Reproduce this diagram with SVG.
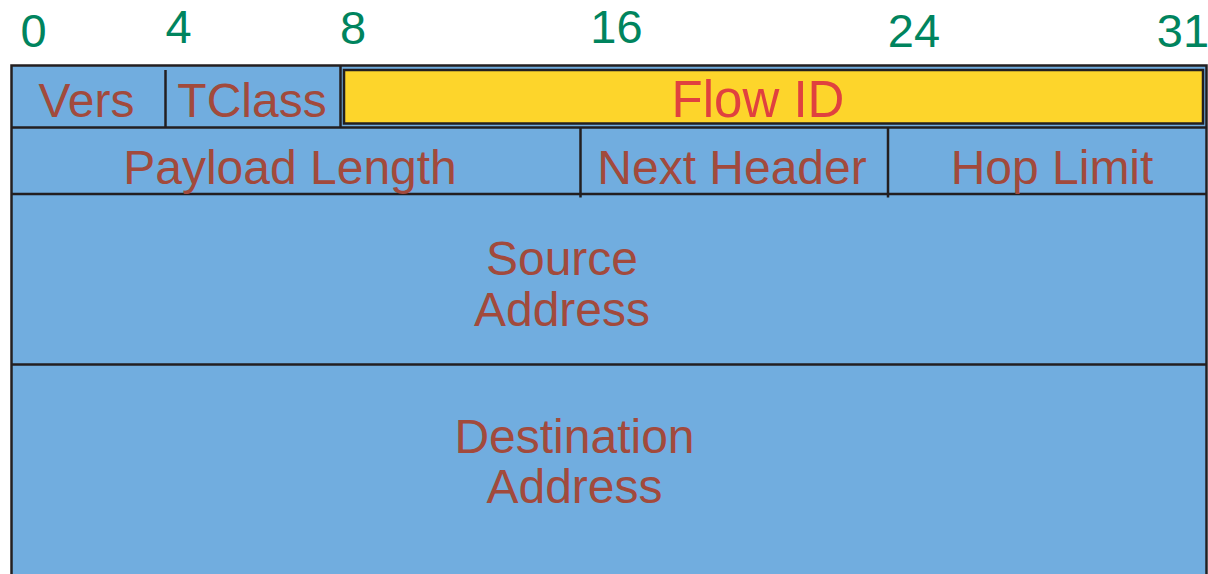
<svg xmlns="http://www.w3.org/2000/svg" width="1208" height="574" viewBox="0 0 1208 574">
  <style>
    .cell { fill: #71addf; stroke: #231f20; stroke-width: 2.5; }
    .rule { stroke: #231f20; stroke-width: 2.5; fill: none; }
    .lbl { font-family: "Liberation Sans", Arial, sans-serif; font-size: 48px; fill: #a24a3c; text-anchor: middle; }
    .flow { font-family: "Liberation Sans", Arial, sans-serif; font-size: 51px; fill: #e0413f; text-anchor: middle; }
    .bit { font-family: "Liberation Sans", Arial, sans-serif; font-size: 47px; fill: #00845e; text-anchor: middle; }
  </style>

  <!-- bit offsets -->
  <g id="bit-scale">
    <text class="bit" x="33.5" y="47">0</text>
    <text class="bit" x="178.5" y="43">4</text>
    <text class="bit" x="353" y="44">8</text>
    <text class="bit" x="616.5" y="43">16</text>
    <text class="bit" x="914" y="47">24</text>
    <text class="bit" x="1183" y="47">31</text>
  </g>

  <!-- header body -->
  <g id="header-frame">
    <rect class="cell" x="11.5" y="65.5" width="1195" height="540"/>
  </g>

  <!-- field separators -->
  <g id="separators">
    <line class="rule" x1="11.5" y1="127.5" x2="1206.5" y2="127.5"/>
    <line class="rule" x1="11.5" y1="194" x2="1206.5" y2="194"/>
    <line class="rule" x1="11.5" y1="364.5" x2="1206.5" y2="364.5"/>
    <line class="rule" x1="165.5" y1="70" x2="165.5" y2="127.5"/>
    <line class="rule" x1="340.5" y1="65.5" x2="340.5" y2="127.5"/>
    <line class="rule" x1="580.5" y1="127.5" x2="580.5" y2="197.5"/>
    <line class="rule" x1="888" y1="127.5" x2="888" y2="197.5"/>
  </g>

  <g id="field-vers">
    <text class="lbl" x="86.5" y="117">Vers</text>
  </g>

  <g id="field-tclass">
    <text class="lbl" x="252" y="117">TClass</text>
  </g>

  <g id="field-flow-id">
    <rect x="344" y="70" width="859" height="53.5" fill="#fdd52b" stroke="#231f20" stroke-width="2.5"/>
    <text class="flow" x="758" y="117">Flow ID</text>
  </g>

  <g id="field-payload-length">
    <text class="lbl" x="290" y="184">Payload Length</text>
  </g>

  <g id="field-next-header">
    <text class="lbl" x="732" y="184">Next Header</text>
  </g>

  <g id="field-hop-limit">
    <text class="lbl" x="1052" y="184">Hop Limit</text>
  </g>

  <g id="field-source-address">
    <text class="lbl" x="562" y="275">Source</text>
    <text class="lbl" x="562" y="326">Address</text>
  </g>

  <g id="field-destination-address">
    <text class="lbl" x="574.5" y="453">Destination</text>
    <text class="lbl" x="574.5" y="503">Address</text>
  </g>
</svg>
